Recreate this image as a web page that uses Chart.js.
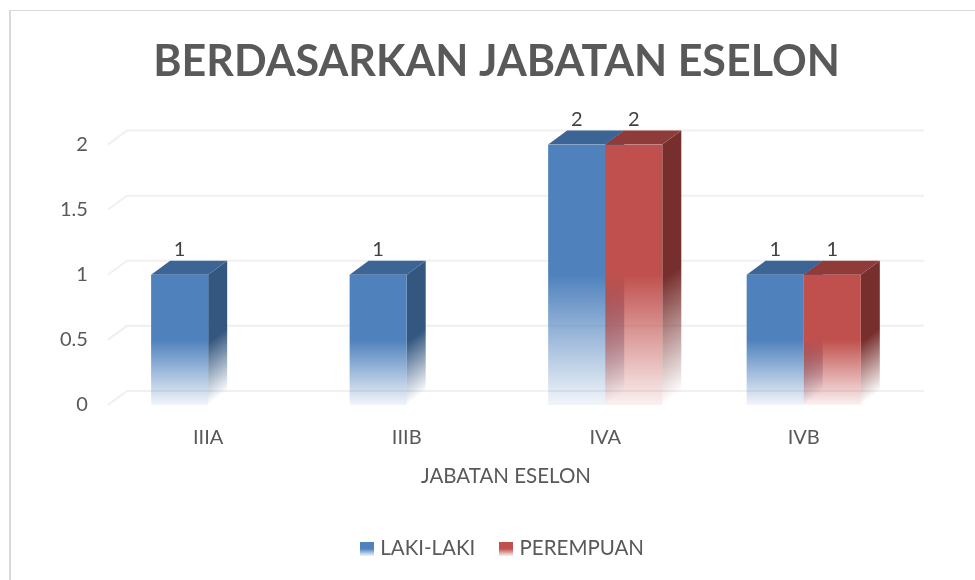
<!DOCTYPE html>
<html>
<head>
<meta charset="utf-8">
<title>Berdasarkan Jabatan Eselon</title>
<script src="https://cdn.jsdelivr.net/npm/chart.js@4"></script>
<style>
  html, body { margin: 0; padding: 0; background: #fff; overflow: hidden; }
  #frame { position: absolute; left: 9px; top: 10px; width: 1000px; height: 600px; border-left: 2px solid #d9d9d9; border-top: 1px solid #d9d9d9; }
  #chart { position: absolute; left: 0; top: 0; }
</style>
</head>
<body>
<div id="frame"></div>
<canvas id="chart" width="975" height="580"></canvas>
<script>
// Data
const categories = ['IIIA', 'IIIB', 'IVA', 'IVB'];
const lakiLaki = [1, 1, 2, 1];
const perempuan = [null, null, 2, 1];
const titleText = 'BERDASARKAN JABATAN ESELON';
const xTitleText = 'JABATAN ESELON';

const FONT = 'Lato';
const GREY = '#595959';
const DEPTH_X = 19;
const DEPTH_Y = 14;

const blue = { rgb: '79,129,189', top: '#3c6494', side: '52,87,128' };
const red = { rgb: '192,80,77', top: '#8e3b39', side: '119,47,45' };

// front of the bar: solid down to the middle, then fades out
function frontFill(c, colour) {
  const value = c.raw;
  if (value == null) return 'rgb(' + colour.rgb + ')';
  const y = c.chart.scales.y;
  const g = c.chart.ctx.createLinearGradient(0, y.getPixelForValue(value), 0, y.getPixelForValue(0));
  g.addColorStop(0, 'rgba(' + colour.rgb + ',1)');
  g.addColorStop(0.5, 'rgba(' + colour.rgb + ',1)');
  g.addColorStop(1, 'rgba(' + colour.rgb + ',0.08)');
  return g;
}

function legendSwatch(colour) {
  const c = document.createElement('canvas');
  c.width = 14;
  c.height = 14;
  const x = c.getContext('2d');
  const g = x.createLinearGradient(0, 0, 0, 14);
  g.addColorStop(0, 'rgba(' + colour.rgb + ',1)');
  g.addColorStop(0.5, 'rgba(' + colour.rgb + ',1)');
  g.addColorStop(1, 'rgba(' + colour.rgb + ',0.1)');
  x.fillStyle = g;
  x.fillRect(0, 0, 14, 14);
  return c;
}

// title and legend sit off the plot's centre in the original
const nudgePlugin = {
  id: 'nudge',
  afterLayout(chart) {
    chart.titleBlock.left += 25.5;
    chart.titleBlock.right += 25.5;
    chart.legend.left += 33;
    chart.legend.right += 33;
    chart.legend.top -= 11;
    chart.legend.bottom -= 11;
  }
};

// back wall lines and the slanted floor/wall joins, from the y scale's ticks
const wallPlugin = {
  id: 'wall',
  beforeDatasetsDraw(chart) {
    const ctx = chart.ctx, y = chart.scales.y, area = chart.chartArea;
    ctx.save();
    ctx.strokeStyle = '#f0f0f0';
    ctx.lineWidth = 2;
    y.ticks.forEach(t => {
      const py = y.getPixelForValue(t.value);
      ctx.beginPath();
      ctx.moveTo(area.left - 1, py);
      ctx.lineTo(area.left - 1 + DEPTH_X, py - DEPTH_Y);
      ctx.lineTo(area.right + 2 + DEPTH_X, py - DEPTH_Y);
      ctx.stroke();
    });
    ctx.restore();
  }
};

// top and side faces of every bar, taken from the bar elements
const boxPlugin = {
  id: 'box',
  beforeDatasetsDraw(chart) {
    const ctx = chart.ctx, y = chart.scales.y;
    const y0 = y.getPixelForValue(0);
    [blue, red].forEach((colour, di) => {
      chart.getDatasetMeta(di).data.forEach((bar, i) => {
        if (chart.data.datasets[di].data[i] == null) return;
        const right = bar.x + bar.width / 2, left = bar.x - bar.width / 2, top = bar.y;
        const h = y0 - top;
        // gradient runs across the depth direction so the fade ends along the slanted floor edge
        const k = h * DEPTH_X / (DEPTH_X * DEPTH_X + DEPTH_Y * DEPTH_Y);
        const g = ctx.createLinearGradient(right, top, right + k * DEPTH_Y, top + k * DEPTH_X);
        g.addColorStop(0, 'rgba(' + colour.side + ',1)');
        g.addColorStop(0.52, 'rgba(' + colour.side + ',1)');
        g.addColorStop(1, 'rgba(' + colour.side + ',0)');
        ctx.fillStyle = g;
        ctx.beginPath();
        ctx.moveTo(right, top);
        ctx.lineTo(right + DEPTH_X, top - DEPTH_Y);
        ctx.lineTo(right + DEPTH_X, y0 - DEPTH_Y);
        ctx.lineTo(right, y0);
        ctx.closePath();
        ctx.fill();

        ctx.fillStyle = colour.top;
        ctx.beginPath();
        ctx.moveTo(left, top);
        ctx.lineTo(left + DEPTH_X, top - DEPTH_Y);
        ctx.lineTo(right + DEPTH_X, top - DEPTH_Y);
        ctx.lineTo(right, top);
        ctx.closePath();
        ctx.fill();
      });
    });
  },
  afterDatasetsDraw(chart) {
    const ctx = chart.ctx;
    ctx.save();
    ctx.font = '20px ' + FONT;
    ctx.fillStyle = '#404040';
    ctx.textAlign = 'center';
    ctx.textBaseline = 'middle';
    chart.data.datasets.forEach((ds, di) => {
      chart.getDatasetMeta(di).data.forEach((bar, i) => {
        if (ds.data[i] == null) return;
        ctx.fillText(String(ds.data[i]), bar.x, bar.y - 25);
      });
    });
    ctx.restore();
  }
};

new Chart(document.getElementById('chart'), {
  type: 'bar',
  data: {
    labels: categories,
    datasets: [
      {
        label: 'LAKI-LAKI',
        data: lakiLaki,
        backgroundColor: c => frontFill(c, blue)
      },
      {
        label: 'PEREMPUAN',
        data: perempuan,
        backgroundColor: c => frontFill(c, red)
      }
    ]
  },
  options: {
    responsive: false,
    animation: false,
    layout: { padding: { left: 39, right: 72, top: 36, bottom: 0 } },
    datasets: { bar: { categoryPercentage: 0.575, barPercentage: 1 } },
    scales: {
      x: {
        grid: { display: false, drawTicks: false },
        border: { display: false },
        ticks: { color: GREY, font: { family: FONT, size: 20 }, padding: 21 },
        title: { display: true, text: xTitleText, color: GREY, font: { family: FONT, size: 20.5 }, padding: { top: -7, bottom: 33 } }
      },
      y: {
        min: 0,
        max: 2,
        grid: { display: false, drawTicks: false },
        border: { display: false },
        ticks: { stepSize: 0.5, color: GREY, font: { family: FONT, size: 20 }, padding: 21, callback: v => String(v) }
      }
    },
    plugins: {
      title: {
        display: true,
        text: titleText,
        color: GREY,
        font: { family: FONT, size: 43, weight: 'bold' },
        padding: { top: 0, bottom: 57 }
      },
      legend: {
        position: 'bottom',
        labels: {
          color: GREY,
          font: { family: FONT, size: 20.5 },
          usePointStyle: true,
          pointStyleWidth: 6,
          boxHeight: 14,
          padding: 28,
          generateLabels: () => [
            { text: 'LAKI-LAKI', pointStyle: legendSwatch(blue), fontColor: GREY, datasetIndex: 0 },
            { text: 'PEREMPUAN', pointStyle: legendSwatch(red), fontColor: GREY, datasetIndex: 1 }
          ]
        }
      },
      tooltip: { enabled: false }
    }
  },
  plugins: [nudgePlugin, wallPlugin, boxPlugin]
});
</script>
</body>
</html>
